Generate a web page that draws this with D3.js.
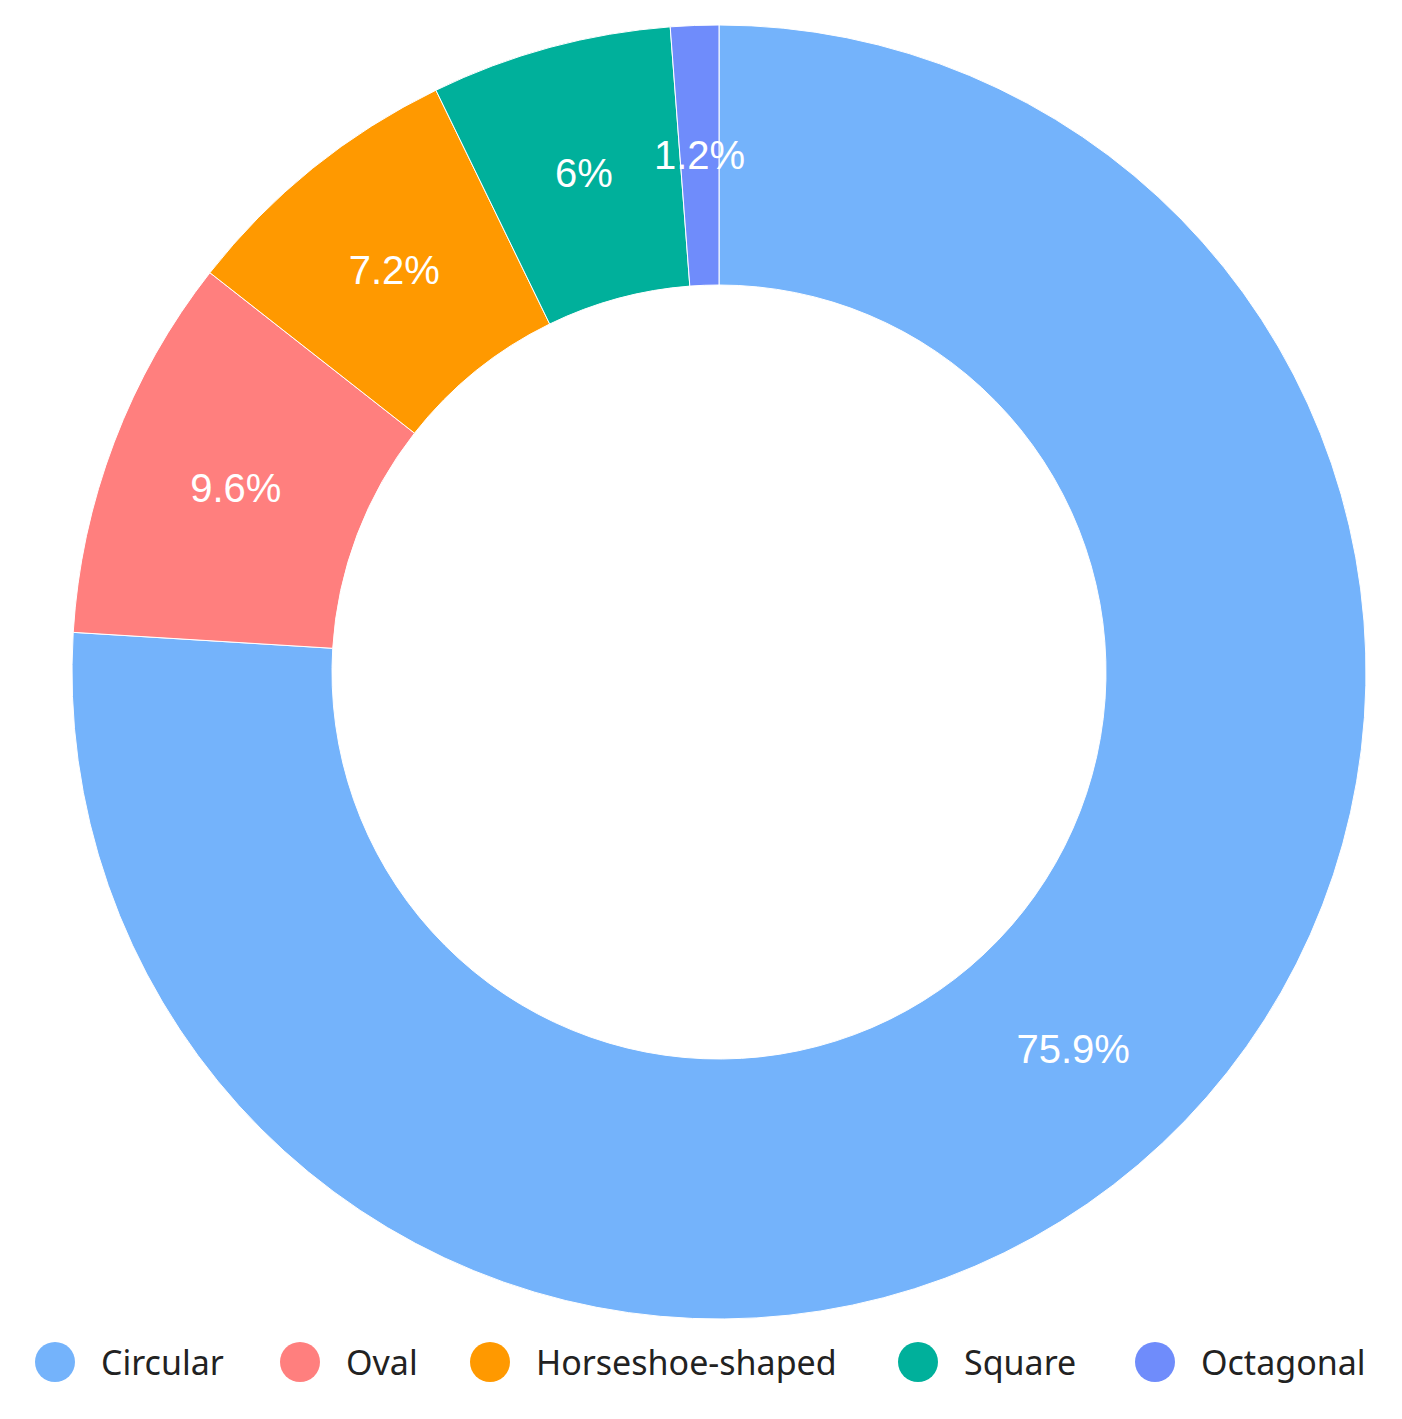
<!DOCTYPE html>
<html>
<head>
<meta charset="utf-8">
<script src="https://cdn.jsdelivr.net/npm/d3@7"></script>
<style>body{margin:0;background:#fff;}</style>
</head>
<body>
<div id="chart"></div>
<script>
// Data
const categories = ["Circular", "Oval", "Horseshoe-shaped", "Square", "Octagonal"];
const values = [75.9, 9.6, 7.2, 6, 1.2];
const colors = ["#74b3fb", "#ff7f7e", "#ff9900", "#00b09b", "#6f8cfb"];
const legendX = [55, 300, 490, 918, 1155];

let width = 1402, height = 1419;
let cx = 719, cy = 672;
let outerR = 647, innerR = 387;

let svg = d3.select('#chart')
    .append('svg')
    .attr('width', width)
    .attr('height', height);

const data = categories.map((c, i) => ({ name: c, value: values[i] }));

const color = d3.scaleOrdinal()
    .domain(categories)
    .range(colors);

const pie = d3.pie()
    .value(d => d.value)
    .sort(null);

const arc = d3.arc()
    .innerRadius(innerR)
    .outerRadius(outerR);

const labelArc = d3.arc()
    .innerRadius((innerR + outerR) / 2)
    .outerRadius((innerR + outerR) / 2);

let g = svg.append('g')
    .attr('transform', `translate(${cx},${cy})`);

const arcs = pie(data);

g.selectAll('path')
    .data(arcs)
    .enter()
    .append('path')
    .attr('d', arc)
    .attr('fill', d => color(d.data.name))
    .attr('stroke', '#fff')
    .attr('stroke-width', 1);

g.selectAll('text')
    .data(arcs)
    .enter()
    .append('text')
    .attr('transform', d => `translate(${labelArc.centroid(d)})`)
    .attr('text-anchor', 'middle')
    .attr('dominant-baseline', 'central')
    .attr('fill', '#fff')
    .style('font-family', 'Liberation Sans, Arial, sans-serif')
    .style('font-size', '40px')
    .text(d => d.data.value + '%');

// Legend
const legend = svg.append('g')
    .attr('transform', `translate(0, 1362)`);

categories.forEach((c, i) => {
    legend.append('circle')
        .attr('cx', legendX[i])
        .attr('cy', 0)
        .attr('r', 20)
        .attr('fill', color(c));
    legend.append('text')
        .attr('x', legendX[i] + 46)
        .attr('y', 0)
        .attr('dominant-baseline', 'central')
        .attr('fill', '#222')
        .style('font-family', 'Noto Sans, sans-serif')
        .style('font-size', '34px')
        .text(c);
});
</script>
</body>
</html>
